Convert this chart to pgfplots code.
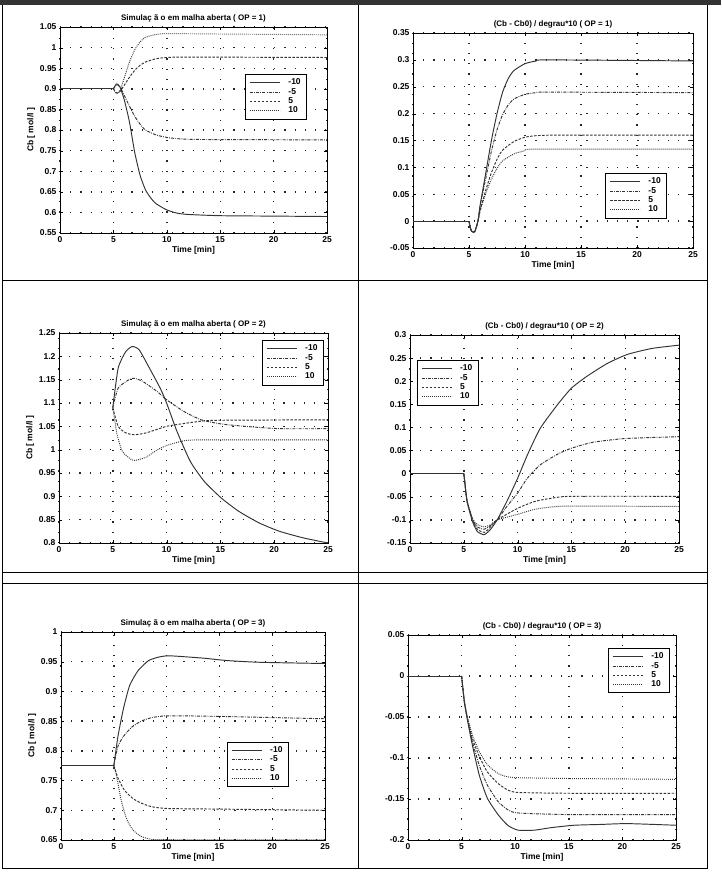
\documentclass[border=0pt]{standalone}
\usepackage{fontspec}
\setmainfont{Liberation Sans}
\usepackage{pgfplots}
\pgfplotsset{compat=1.18}
\definecolor{ink}{gray}{0.2}
\pgfplotsset{mat/.style={
  scale only axis, xmin=0, xmax=25, xtick={0,5,10,15,20,25},
  grid=major,
  grid style={black!85, line width=1.4pt, dash pattern=on 1.2pt off 9pt},
  axis line style={black, line width=0.9pt},
  tick align=inside, major tick length=3pt, tick style={black},
  ticklabel style={font=\fontsize{8.5}{9}\selectfont\bfseries},
  /pgf/number format/assume math mode=true,
  yticklabel style={/pgf/number format/fixed, /pgf/number format/precision=2},
  title style={font=\fontsize{8}{9}\selectfont\bfseries, yshift=-5pt},
  label style={font=\fontsize{8.5}{9}\selectfont\bfseries},
  xlabel={Time [min]},
  xlabel style={yshift=3pt},
  ylabel style={yshift=-2pt},
  legend style={draw=black, line width=0.9pt, font=\fontsize{8.5}{9}\selectfont\bfseries,
    row sep=-2pt, inner xsep=4pt, inner ysep=2.5pt, anchor=north west, fill=white,
    /tikz/every odd column/.append style={column sep=6pt}},
  legend cell align=left,
  legend image code/.code={\draw[##1] (0pt,0pt) -- (30pt,0pt);},
  every axis plot/.append style={line width=0.95pt, ink, mark=none, smooth, tension=0.35},
}}
\tikzset{s1/.style={solid}, s2/.style={dash pattern=on 3pt off 1.2pt on 0.8pt off 1.2pt},
  s3/.style={dash pattern=on 2.5pt off 1.5pt}, s4/.style={dash pattern=on 0.9pt off 1.1pt}}
\begin{document}
\begin{tikzpicture}
\path[use as bounding box, fill=white] (0,0) rectangle (721pt,-877pt);
% page frames
\fill[black!80] (0,0) rectangle (721pt,-5pt);
\draw[black, line width=1pt] (2pt,-5pt) -- (2pt,-868pt) -- (707pt,-868pt) -- (707pt,-5pt);
\draw[black, line width=1pt] (358pt,-5pt) -- (358pt,-868pt);
\draw[black, line width=1pt] (2pt,-280pt) -- (707pt,-280pt);
\draw[black, line width=1pt] (2pt,-572pt) -- (707pt,-572pt);
\draw[black, line width=0.6pt] (2pt,-583pt) -- (707pt,-583pt);

% ---------- Panel 1 ----------
\begin{axis}[mat, at={(60pt,-233pt)}, anchor=south west, width=267pt, height=206pt,
  ymin=0.55, ymax=1.05, ytick={0.55,0.6,0.65,0.7,0.75,0.8,0.85,0.9,0.95,1,1.05},
  title={Simulaç ã o em malha aberta ( OP = 1)}, ylabel={Cb [ mol/l ]},
  legend style={at={(0.693,0.772)}}]
\addplot[s1] coordinates {(5,0.9)(5.3,0.912)(5.6,0.905)(6,0.875)(6.5,0.82)(7,0.745)(7.5,0.69)(8,0.655)(8.5,0.635)(9,0.621)(10,0.606)(11,0.598)(12,0.595)(15,0.592)(20,0.591)(25,0.59)};
\addplot[s2] coordinates {(5,0.9)(5.3,0.91)(5.6,0.905)(6,0.885)(6.5,0.858)(7,0.833)(7.5,0.814)(8,0.8)(9,0.788)(10,0.782)(11,0.779)(13,0.777)(25,0.776)};
\addplot[s3] coordinates {(5,0.9)(5.3,0.89)(5.6,0.893)(6,0.908)(6.5,0.928)(7,0.945)(7.5,0.957)(8,0.965)(9,0.973)(10,0.976)(12,0.977)(25,0.976)};
\addplot[s4] coordinates {(5,0.9)(5.3,0.888)(5.6,0.895)(6,0.925)(6.5,0.965)(7,0.995)(7.5,1.014)(8,1.025)(9,1.032)(10,1.034)(15,1.033)(25,1.031)};
\addplot[s1,sharp plot,forget plot] coordinates {(0,0.9)(5,0.9)};
\legend{-10,-5,5,10}
\end{axis}

% ---------- Panel 2 ----------
\begin{axis}[mat, at={(413pt,-248pt)}, anchor=south west, width=280pt, height=215pt,
  ymin=-0.05, ymax=0.35, ytick={-0.05,0,0.05,0.1,0.15,0.2,0.25,0.3,0.35},
  title={(Cb - Cb0) / degrau*10 ( OP = 1)},
  legend style={at={(0.686,0.349)}}]
\addplot[s1] coordinates {(5,0)(5.2,-0.018)(5.5,-0.02)(5.8,0)(6,0.03)(6.5,0.09)(7,0.15)(7.5,0.2)(8,0.24)(8.5,0.265)(9,0.28)(10,0.293)(11,0.298)(12,0.3)(25,0.298)};
\addplot[s2] coordinates {(5,0)(5.2,-0.018)(5.5,-0.02)(5.8,0)(6,0.03)(6.5,0.08)(7,0.13)(7.5,0.17)(8,0.198)(8.5,0.216)(9,0.227)(10,0.236)(11,0.239)(12,0.24)(25,0.239)};
\addplot[s3] coordinates {(5,0)(5.2,-0.018)(5.5,-0.02)(5.8,0)(6,0.02)(6.5,0.058)(7,0.09)(7.5,0.115)(8,0.132)(9,0.148)(10,0.156)(11,0.159)(13,0.16)(25,0.16)};
\addplot[s4] coordinates {(5,0)(5.2,-0.018)(5.5,-0.02)(5.8,0)(6,0.02)(6.5,0.052)(7,0.078)(7.5,0.098)(8,0.112)(9,0.125)(10,0.131)(11,0.134)(25,0.134)};
\addplot[s1,sharp plot,forget plot] coordinates {(0,0)(5,0)};
\legend{-10,-5,5,10}
\end{axis}

% ---------- Panel 3 ----------
\begin{axis}[mat, at={(59pt,-543pt)}, anchor=south west, width=269pt, height=210pt,
  ymin=0.8, ymax=1.25, ytick={0.8,0.85,0.9,0.95,1,1.05,1.1,1.15,1.2,1.25},
  title={Simulaç ã o em malha aberta ( OP = 2)}, ylabel={Cb [ mol/l ]},
  legend style={at={(0.754,0.967)}}]
\addplot[s1] coordinates {(5,1.09)(5.5,1.175)(6.2,1.21)(6.8,1.221)(7.45,1.214)(8.4,1.175)(9.4,1.132)(10,1.1)(10.95,1.04)(12.2,0.975)(13.5,0.932)(15.1,0.896)(16.7,0.868)(18.6,0.843)(20.5,0.825)(22.7,0.811)(25,0.8)};
\addplot[s2] coordinates {(5,1.09)(5.5,1.132)(6.5,1.15)(7,1.153)(7.8,1.146)(9.1,1.125)(10,1.107)(11.6,1.082)(13.2,1.064)(15.1,1.055)(17.3,1.05)(20.5,1.045)(25,1.045)};
\addplot[s3] coordinates {(5,1.09)(5.5,1.05)(6.2,1.036)(7,1.032)(8.1,1.036)(10,1.05)(11.6,1.056)(13.2,1.061)(14.8,1.063)(25,1.064)};
\addplot[s4] coordinates {(5,1.09)(5.4,1.032)(5.9,0.996)(6.65,0.98)(7.1,0.977)(8.1,0.984)(9.1,0.999)(10,1.009)(11.6,1.019)(13.2,1.021)(25,1.021)};
\legend{-10,-5,5,10}
\end{axis}

% ---------- Panel 4 ----------
\begin{axis}[mat, at={(410pt,-543pt)}, anchor=south west, width=269pt, height=208pt,
  ymin=-0.15, ymax=0.3, ytick={-0.15,-0.1,-0.05,0,0.05,0.1,0.15,0.2,0.25,0.3},
  title={(Cb - Cb0) / degrau*10 ( OP = 2)},
  legend style={at={(0.025,0.88)}}]
\addplot[s1] coordinates {(5,0)(5.1,-0.02)(5.3,-0.06)(5.8,-0.103)(6.25,-0.125)(6.9,-0.132)(7.5,-0.12)(8.1,-0.1)(9,-0.06)(10,-0.01)(10.9,0.04)(12.1,0.098)(13.7,0.149)(15,0.185)(16.4,0.21)(18.3,0.238)(20.2,0.258)(22.5,0.271)(25,0.278)};
\addplot[s2] coordinates {(5,0)(5.1,-0.02)(5.3,-0.058)(5.8,-0.098)(6.25,-0.115)(6.9,-0.12)(7.5,-0.112)(8.1,-0.1)(9,-0.071)(10,-0.042)(10.9,-0.01)(12.1,0.019)(13.7,0.042)(15,0.055)(17,0.068)(20,0.076)(25,0.08)};
\addplot[s3] coordinates {(5,0)(5.1,-0.02)(5.3,-0.06)(5.8,-0.1)(6.25,-0.12)(6.9,-0.127)(7.5,-0.115)(8.1,-0.1)(10,-0.075)(11.6,-0.06)(13.2,-0.053)(15,-0.049)(25,-0.049)};
\addplot[s4] coordinates {(5,0)(5.1,-0.02)(5.3,-0.058)(5.8,-0.097)(6.25,-0.11)(6.9,-0.115)(7.5,-0.11)(8.1,-0.1)(10,-0.088)(11.6,-0.077)(13.2,-0.072)(15,-0.07)(25,-0.071)};
\addplot[s1,sharp plot,forget plot] coordinates {(0,0)(5,0)};
\legend{-10,-5,5,10}
\end{axis}

% ---------- Panel 5 ----------
\begin{axis}[mat, at={(61pt,-840pt)}, anchor=south west, width=264pt, height=208pt,
  ymin=0.65, ymax=1, ytick={0.65,0.7,0.75,0.8,0.85,0.9,0.95,1},
  title={Simulaç ã o em malha aberta ( OP = 3)}, ylabel={Cb [ mol/l ]},
  legend style={at={(0.628,0.473)}}]
\addplot[s1] coordinates {(5,0.775)(5.4,0.825)(5.9,0.87)(6.5,0.91)(7.3,0.935)(8.3,0.952)(9.3,0.958)(10.1,0.96)(11.2,0.959)(13.5,0.956)(15.7,0.952)(18.9,0.949)(25,0.947)};
\addplot[s2] coordinates {(5,0.775)(5.4,0.808)(5.9,0.824)(6.7,0.84)(7.6,0.85)(8.6,0.856)(10.1,0.859)(15,0.858)(25,0.854)};
\addplot[s3] coordinates {(5,0.775)(5.4,0.754)(6,0.734)(6.8,0.72)(7.6,0.712)(8.6,0.706)(10.1,0.703)(15,0.702)(25,0.7)};
\addplot[s4] coordinates {(5,0.775)(5.2,0.763)(5.7,0.717)(6.2,0.686)(6.8,0.667)(7.6,0.656)(8.6,0.651)(10,0.6505)(25,0.6502)};
\addplot[s1,sharp plot,forget plot] coordinates {(0,0.775)(5,0.775)};
\legend{-10,-5,5,10}
\end{axis}

% ---------- Panel 6 ----------
\begin{axis}[mat, at={(408pt,-840pt)}, anchor=south west, width=268pt, height=205pt,
  ymin=-0.2, ymax=0.05, ytick={-0.2,-0.15,-0.1,-0.05,0,0.05},
  title={(Cb - Cb0) / degrau*10 ( OP = 3)},
  legend style={at={(0.746,0.937)}}]
\addplot[s1] coordinates {(5,0)(5.25,-0.031)(5.55,-0.054)(6,-0.084)(6.65,-0.121)(7.4,-0.149)(8.4,-0.169)(9.3,-0.182)(10.25,-0.188)(11.8,-0.188)(13.3,-0.185)(15.5,-0.182)(18,-0.181)(20.5,-0.18)(25,-0.182)};
\addplot[s2] coordinates {(5,0)(5.25,-0.031)(5.55,-0.053)(6,-0.08)(6.65,-0.109)(7.4,-0.133)(8.4,-0.153)(9.3,-0.163)(10.25,-0.167)(15,-0.169)(25,-0.169)};
\addplot[s3] coordinates {(5,0)(5.25,-0.031)(5.55,-0.052)(6,-0.076)(6.65,-0.098)(7.4,-0.117)(8.4,-0.131)(9.3,-0.139)(10.25,-0.142)(15,-0.143)(25,-0.143)};
\addplot[s4] coordinates {(5,0)(5.25,-0.03)(5.55,-0.05)(6,-0.072)(6.65,-0.092)(7.4,-0.108)(8.4,-0.119)(9.3,-0.123)(10.25,-0.124)(15,-0.125)(25,-0.126)};
\addplot[s1,sharp plot,forget plot] coordinates {(0,0)(5,0)};
\legend{-10,-5,5,10}
\end{axis}
\end{tikzpicture}
\end{document}
